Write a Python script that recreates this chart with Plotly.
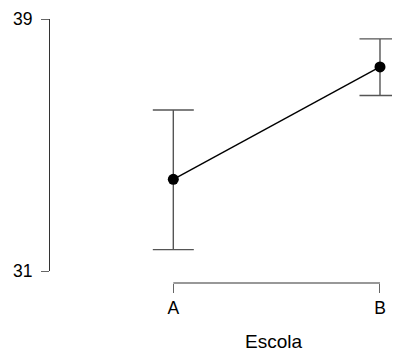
import plotly.graph_objects as go

categories = ["A", "B"]
means = [33.91, 37.48]
err_plus = [2.20, 0.89]
err_minus = [2.23, 0.91]
y_ticks = [31, 39]
y_range = [31, 39]
x_title = "Escola"

FONT = "Liberation Sans, Arial, sans-serif"

fig = go.Figure()
fig.add_trace(go.Scatter(
    x=categories, y=means, mode="lines+markers",
    line=dict(color="#000000", width=1.4),
    marker=dict(color="#000000", size=11),
    error_y=dict(type="data", symmetric=False, array=err_plus, arrayminus=err_minus,
                 color="#555555", thickness=1.4, width=20.5),
    cliponaxis=False,
    showlegend=False,
))

# x axis range-frame line from first to last category
fig.add_shape(type="line", xref="x", yref="paper",
              x0=categories[0], x1=categories[-1], y0=0, y1=0,
              line=dict(color="#333333", width=1.2))

fig.add_annotation(text=x_title, xref="paper", yref="paper", x=0.638, y=-0.2197,
                   xanchor="center", yanchor="middle", showarrow=False,
                   font=dict(family=FONT, size=19, color="#000000"))

fig.update_layout(
    width=400, height=351,
    margin=dict(l=42, r=8, t=11, b=76, autoexpand=False),
    plot_bgcolor="white", paper_bgcolor="white",
    font=dict(family=FONT, color="#000000"),
    xaxis=dict(type="category", range=[-0.5966, 1.0968], anchor="free", position=0,
               automargin=False,
               showline=False, showgrid=False, zeroline=False,
               ticks="outside", ticklen=9, tickcolor="#666666", tickwidth=1.2,
               tickfont=dict(size=17.5, family=FONT, color="#000000")),
    yaxis=dict(range=y_range, domain=[12/264, 1], tickvals=y_ticks,
               automargin=False,
               showline=True, linecolor="#333333", linewidth=1.2,
               showgrid=False, zeroline=False,
               ticks="outside", ticklen=8, tickcolor="#666666", tickwidth=1.2,
               ticklabelstandoff=5,
               tickfont=dict(size=17.5, family=FONT, color="#000000")),
)

fig.write_html("out.html")
